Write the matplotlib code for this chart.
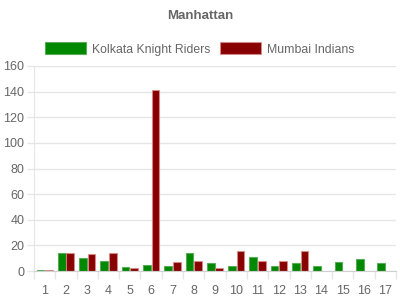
import matplotlib
matplotlib.use("Agg")
import matplotlib.pyplot as plt
from matplotlib.patches import Patch
import numpy as np

overs = list(range(1, 18))
kkr = [1, 14, 10, 8, 3, 5, 4, 14, 6, 4, 11, 4, 6, 4, 7, 9, 6]
mi = [1, 14, 13, 14, 2, 141, 7, 8, 2, 16, 8, 8, 16, 0, 0, 0, 0]
series_names = ["Kolkata Knight Riders", "Mumbai Indians"]
y_ticks = [0, 20, 40, 60, 80, 100, 120, 140, 160]

plt.rcParams['font.family'] = ['Liberation Sans', 'DejaVu Sans']
txt = '#666666'
grid = '#e6e6e6'

fig = plt.figure(figsize=(4, 3), dpi=100)
ax = fig.add_axes([34/400, 1-271/300, 362/400, 205/300])

x = np.array(overs, dtype=float)
slot = 0.4
bw = 0.36
ax.bar(x - slot/2, kkr, width=bw, color='#008800', edgecolor=(0.3, 0.65, 0.3, 0.8), linewidth=0.8, zorder=3)
ax.bar(x + slot/2, [v if v > 0 else np.nan for v in mi], width=bw, color='#880000', edgecolor=(0.85, 0.55, 0.55, 0.8), linewidth=0.8, zorder=3)

ax.set_xlim(0.5, 17.5)
ax.set_ylim(0, 160)
ax.set_yticks(y_ticks)
ax.set_yticklabels([str(t) for t in y_ticks], fontsize=9, color=txt)
ax.set_xticks(overs)
ax.set_xticklabels([str(o) for o in overs], fontsize=9, color=txt)
ax.set_xticks(np.arange(0.5, 18, 1), minor=True)
ax.tick_params(axis='x', which='major', length=0, pad=10)
ax.tick_params(axis='x', which='minor', length=6, color=grid, width=1)
ax.tick_params(axis='y', length=5, color=grid, width=1, pad=2)
ax.yaxis.grid(True, color=grid, linewidth=1, zorder=0)
for s in ['top', 'right']:
    ax.spines[s].set_visible(False)
ax.spines['left'].set_color(grid)
ax.spines['bottom'].set_color('#d0d0d0')
ax.spines['bottom'].set_zorder(4)

fig.text(0.5, 1-16/300, "Manhattan", ha='center', va='center', fontsize=9.5, fontweight='bold', color=txt)

handles = [Patch(facecolor='#008800', edgecolor=(0.3, 0.65, 0.3, 0.8), linewidth=0.8),
           Patch(facecolor='#880000', edgecolor=(0.85, 0.55, 0.55, 0.8), linewidth=0.8)]
leg = fig.legend(handles, series_names, loc='center', bbox_to_anchor=(0.5, 1-49/300), ncol=2,
                 frameon=False, prop={'size': 8.8}, handlelength=3.3, handleheight=1.1,
                 handletextpad=0.55, columnspacing=0.8, labelcolor=txt)

fig.savefig("out.png", dpi=100)
